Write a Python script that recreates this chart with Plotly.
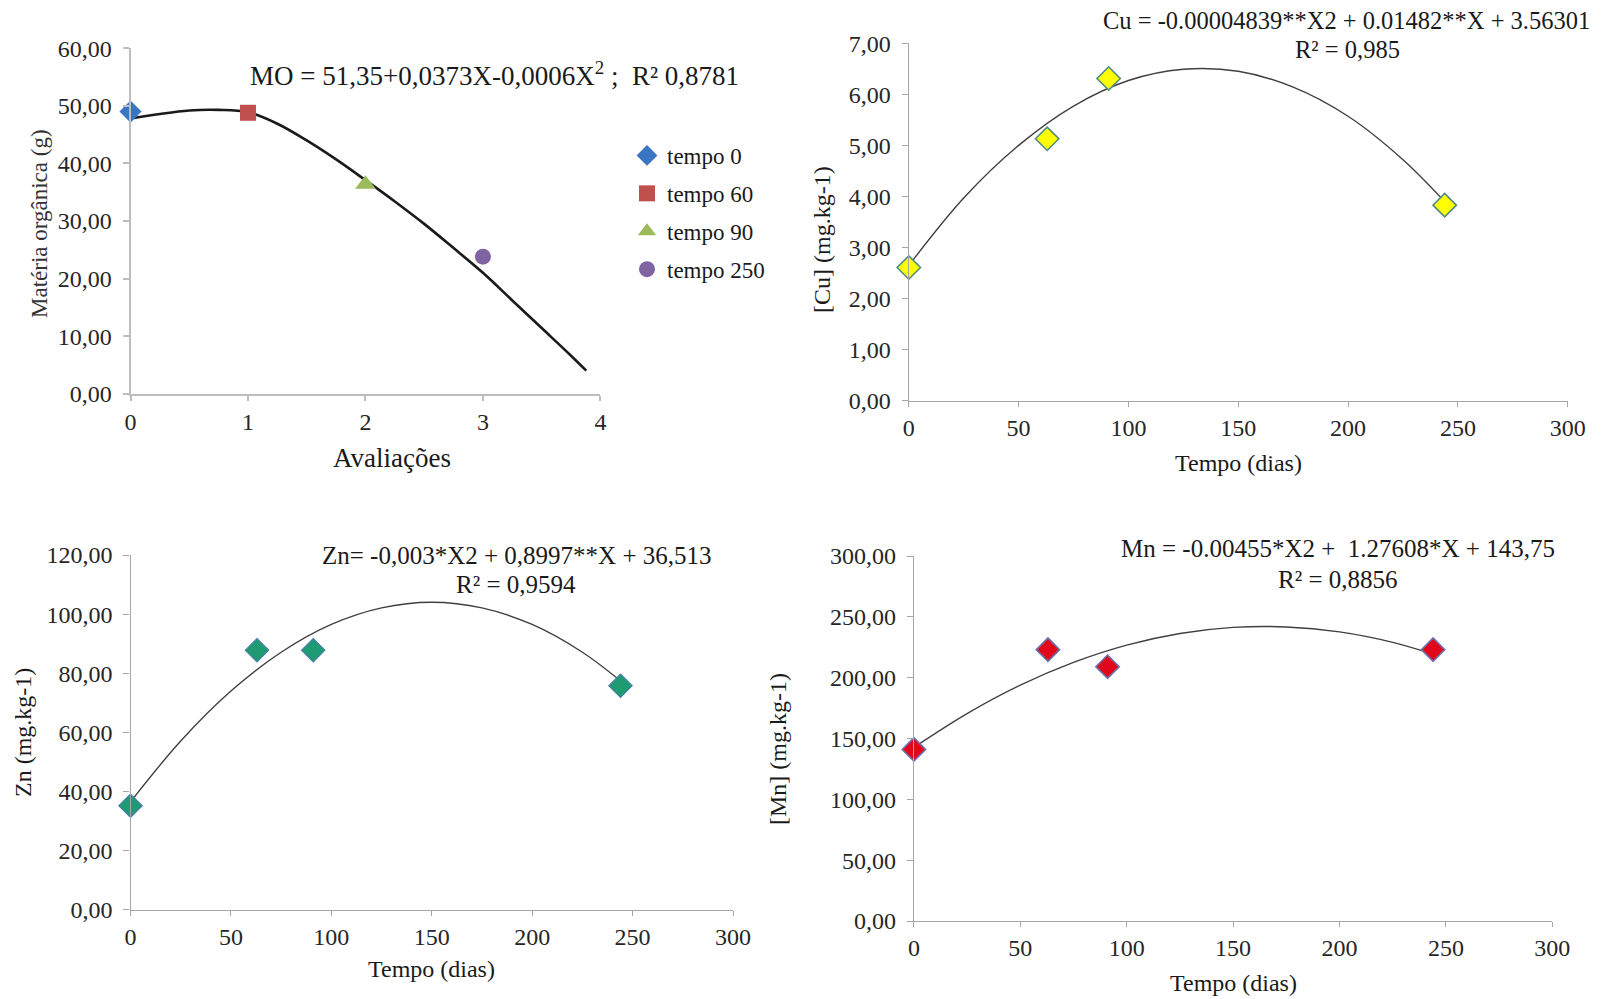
import plotly.graph_objects as go

# ---------------- data ----------------
mo_x = [0, 1, 2, 3]
mo_y = [49.0, 48.8, 36.4, 23.8]
mo_names = ["tempo 0", "tempo 60", "tempo 90", "tempo 250"]
mo_curve_x = [0, 0.25, 0.5, 0.75, 1, 1.25, 1.5, 1.75, 2, 2.25, 2.5, 2.75, 3, 3.25, 3.5, 3.75, 3.88]
mo_curve_y = [47.8, 48.6, 49.2, 49.3, 48.9, 46.9, 44.0, 40.7, 37.1, 33.4, 29.5, 25.3, 21.0, 16.2, 11.4, 6.6, 4.0]

days = [0, 63, 91, 244]
cu = [2.61, 5.13, 6.31, 3.83]
zn = [35.2, 87.8, 87.8, 75.8]
mn = [141, 223, 209, 223]

curve_days = [0, 25, 50, 75, 100, 125, 150, 175, 200, 225, 244]
cu_curve = [2.65, 3.97, 5.00, 5.77, 6.27, 6.49, 6.45, 6.14, 5.57, 4.72, 3.90]
zn_curve = [36.5, 57.1, 74.0, 87.1, 96.5, 102.1, 104.0, 102.1, 96.5, 87.1, 77.4]
mn_curve = [142.7, 170.5, 193.8, 212.5, 226.7, 236.3, 241.3, 241.7, 237.6, 229.0, 219.3]

mo_yticks = [0, 10, 20, 30, 40, 50, 60]
mo_yticktext = ["0,00", "10,00", "20,00", "30,00", "40,00", "50,00", "60,00"]
mo_xticks = [0, 1, 2, 3, 4]
cu_yticks = [0, 1, 2, 3, 4, 5, 6, 7]
cu_yticktext = ["0,00", "1,00", "2,00", "3,00", "4,00", "5,00", "6,00", "7,00"]
zn_yticks = [0, 20, 40, 60, 80, 100, 120]
zn_yticktext = ["0,00", "20,00", "40,00", "60,00", "80,00", "100,00", "120,00"]
mn_yticks = [0, 50, 100, 150, 200, 250, 300]
mn_yticktext = ["0,00", "50,00", "100,00", "150,00", "200,00", "250,00", "300,00"]
day_ticks = [0, 50, 100, 150, 200, 250, 300]

# ---------------- layout helpers ----------------
W, H = 1612, 999
FONT = "Liberation Serif"


def fx(p):
    return p / W


def fy(p):
    return 1 - p / H


fig = go.Figure()

# Panel 1 : Matéria orgânica
fig.add_trace(go.Scatter(x=mo_curve_x, y=mo_curve_y, mode="lines",
                         line=dict(color="#1a1a1a", width=2.6, shape="spline", smoothing=1.0),
                         showlegend=False, xaxis="x", yaxis="y", hoverinfo="skip"))
mo_symbols = ["diamond", "square", "triangle-up", "circle"]
mo_colors = ["#3A75C4", "#C0504D", "#9BBB59", "#8064A2"]
mo_sizes = [17, 16, 18, 16]
for i in range(4):
    fig.add_trace(go.Scatter(x=[mo_x[i]], y=[mo_y[i]], mode="markers", name=mo_names[i],
                             marker=dict(symbol=mo_symbols[i], color=mo_colors[i], size=mo_sizes[i]),
                             xaxis="x", yaxis="y", cliponaxis=False, legendgroup=str(i)))

# Panel 2 : Cu
fig.add_trace(go.Scatter(x=curve_days, y=cu_curve, mode="lines", line=dict(color="#404040", width=1.4, shape="spline"),
                         showlegend=False, xaxis="x2", yaxis="y2"))
fig.add_trace(go.Scatter(x=days, y=cu, mode="markers", showlegend=False, cliponaxis=False,
                         marker=dict(symbol="diamond", color="#FFFF00", size=18, line=dict(color="#4F8C86", width=1.6)),
                         xaxis="x2", yaxis="y2"))

# Panel 3 : Zn
fig.add_trace(go.Scatter(x=curve_days, y=zn_curve, mode="lines", line=dict(color="#404040", width=1.4, shape="spline"),
                         showlegend=False, xaxis="x3", yaxis="y3"))
fig.add_trace(go.Scatter(x=days, y=zn, mode="markers", showlegend=False, cliponaxis=False,
                         marker=dict(symbol="diamond", color="#1E9B72", size=18, line=dict(color="#4A7FA8", width=1.2)),
                         xaxis="x3", yaxis="y3"))

# Panel 4 : Mn
fig.add_trace(go.Scatter(x=curve_days, y=mn_curve, mode="lines", line=dict(color="#404040", width=1.4, shape="spline"),
                         showlegend=False, xaxis="x4", yaxis="y4"))
fig.add_trace(go.Scatter(x=days, y=mn, mode="markers", showlegend=False, cliponaxis=False,
                         marker=dict(symbol="diamond", color="#E0081A", size=18, line=dict(color="#6C73B0", width=1.6)),
                         xaxis="x4", yaxis="y4"))

AX_COLOR = "#A6A6A6"
TICK_FONT = dict(family=FONT, size=24, color="#262626")


def xaxis_cfg(px0, px1, anchor, rng, tickvals, ticktext=None, lw=1.4, color=AX_COLOR):
    d = dict(domain=[fx(px0), fx(px1)], anchor=anchor, range=rng, showline=True, linecolor=color, linewidth=lw,
             ticks="outside", ticklen=5, tickcolor=color, tickwidth=lw, showgrid=False, zeroline=False,
             tickvals=tickvals, tickfont=TICK_FONT, fixedrange=True, ticklabelstandoff=0, automargin=False)
    if ticktext is not None:
        d["ticktext"] = ticktext
    return d


def yaxis_cfg(py_top, py_bot, anchor, rng, tickvals, ticktext, lw=1.4, color=AX_COLOR):
    return dict(domain=[fy(py_bot), fy(py_top)], anchor=anchor, range=rng, showline=True, linecolor=color,
                linewidth=lw, ticks="outside", ticklen=6, tickcolor=color, tickwidth=lw, showgrid=False,
                zeroline=False, tickvals=tickvals, ticktext=ticktext, tickfont=TICK_FONT, fixedrange=True,
                ticklabelstandoff=6, automargin=False)


fig.update_layout(
    width=W, height=H, autosize=False,
    margin=dict(l=0, r=0, t=0, b=0, pad=0, autoexpand=False),
    paper_bgcolor="white", plot_bgcolor="white",
    font=dict(family=FONT, color="#1a1a1a"),
    xaxis=xaxis_cfg(130.5, 600.4, "y", [0, 4], mo_xticks, lw=2, color="#BDBDBD"),
    yaxis=yaxis_cfg(48.3, 393.7, "x", [0, 60], mo_yticks, mo_yticktext, lw=2, color="#BDBDBD"),
    xaxis2=xaxis_cfg(908.8, 1567.7, "y2", [0, 300], day_ticks),
    yaxis2=yaxis_cfg(43.2, 400.9, "x2", [0, 7], cu_yticks, cu_yticktext),
    xaxis3=xaxis_cfg(130.5, 733.0, "y3", [0, 300], day_ticks),
    yaxis3=yaxis_cfg(555.0, 909.8, "x3", [0, 120], zn_yticks, zn_yticktext),
    xaxis4=xaxis_cfg(913.9, 1552.3, "y4", [0, 300], day_ticks),
    yaxis4=yaxis_cfg(556.0, 921.0, "x4", [0, 300], mn_yticks, mn_yticktext),
    legend=dict(x=fx(627), y=fy(134), xanchor="left", yanchor="top", bgcolor="rgba(0,0,0,0)",
                font=dict(family=FONT, size=23, color="#1a1a1a"), tracegroupgap=5, itemwidth=30),
    showlegend=True,
)


def ann(text, px, py, size, angle=0, color="#1a1a1a"):
    fig.add_annotation(text=text, x=fx(px), y=fy(py), xref="paper", yref="paper", showarrow=False,
                       xanchor="center", yanchor="middle", textangle=angle,
                       font=dict(family=FONT, size=size, color=color))


# axis titles
ann("Avaliações", 392, 458, 27)
ann("Matéria orgânica (g)", 39, 224, 23, -90, "#333333")
ann("Tempo (dias)", 1238, 463, 24)
ann("[Cu] (mg.kg-1)", 822, 240, 24, -90)
ann("Tempo (dias)", 432, 969, 24)
ann("Zn (mg.kg-1)", 23, 733, 24, -90)
ann("Tempo (dias)", 1233, 983, 24)
ann("[Mn] (mg.kg-1)", 778, 749, 24, -90)

# equations
ann("MO = 51,35+0,0373X-0,0006X<sup>2</sup> ;  R² 0,8781", 494, 74, 27)
ann("Cu = -0.00004839**X2 + 0.01482**X + 3.56301", 1346, 21, 24.5)
ann("R² = 0,985", 1347, 49, 24.5)
ann("Zn= -0,003*X2 + 0,8997**X + 36,513", 517, 555, 25)
ann("R² = 0,9594", 516, 584, 25)
ann("Mn = -0.00455*X2 +  1.27608*X + 143,75", 1338, 548, 25)
ann("R² = 0,8856", 1338, 579, 25)

fig.write_html(
    "out.html",
    config={"displayModeBar": False},
    post_script="document.body.style.margin='0px';document.body.style.overflow='hidden';",
)
